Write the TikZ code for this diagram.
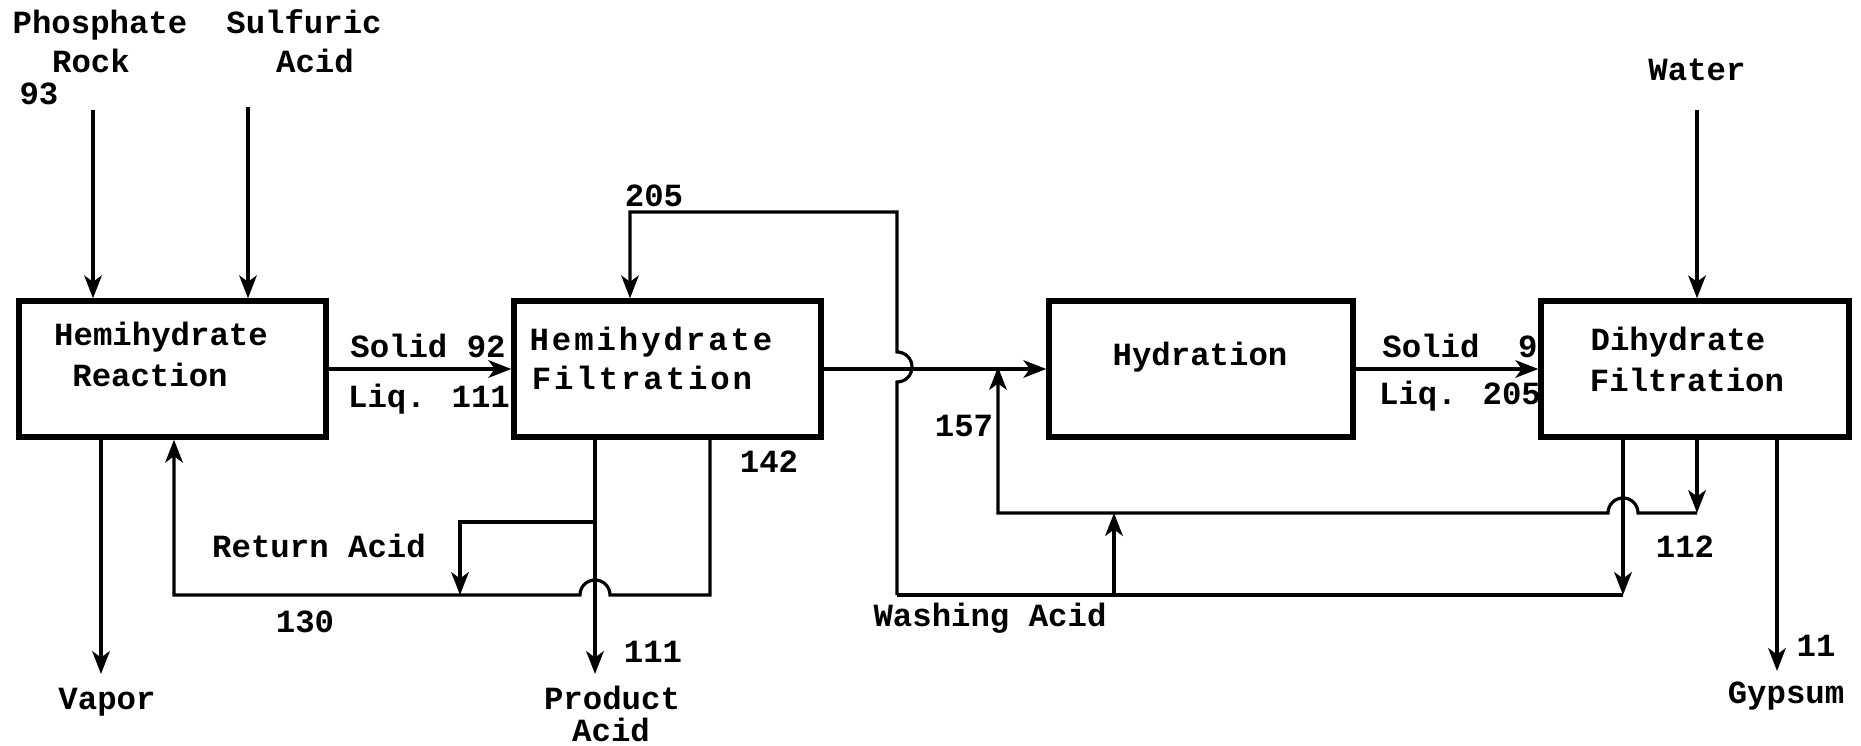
\documentclass[tikz,border=0pt]{standalone}
\usepackage{fontspec}
\setmainfont{Liberation Mono}
\usetikzlibrary{arrows.meta}
\begin{document}
\begin{tikzpicture}[x=0.01cm,y=-0.01cm,
  box/.style={draw, line width=1.5pt, inner sep=0pt, minimum height=1.36cm},
  lbl/.style={font=\fontsize{9.2}{11}\selectfont\bfseries, inner sep=0pt, text height=5.3pt, text depth=0pt},
  wide/.style={lbl, font=\fontsize{9.2}{11}\selectfont\bfseries\addfontfeature{LetterSpace=9}},
  flow/.style={line width=0.9pt},
  arr/.style={flow, -{Stealth[length=6.5pt,width=5pt,inset=1.8pt]}},
]
\useasboundingbox (0,0) rectangle (1861,746);

% boxes
\node[box, minimum width=3.07cm] (react) at (172.5,369) {};
\node[box, minimum width=3.07cm] (hfilt) at (667.5,369) {};
\node[box, minimum width=3.04cm] (hyd) at (1201,369) {};
\node[box, minimum width=3.08cm] (dfilt) at (1695,369) {};

% box texts
\node[lbl] (t1a) at (161,336) {Hemihydrate};
\node[lbl] (t1b) at (150,377) {Reaction};
\node[wide] (t2a) at (651,341) {Hemihydrate};
\node[wide] (t2b) at (642,380) {Filtration};
\node[lbl] (t3) at (1200,356) {Hydration};
\node[lbl] (t4a) at (1678,341) {Dihydrate};
\node[lbl] (t4b) at (1687,382) {Filtration};

% feed labels
\node[lbl] (phos) at (100,24) {Phosphate};
\node[lbl] (rock) at (91,63) {Rock};
\node[lbl] (n93) at (39,95) {93};
\node[lbl] (sulf) at (304,24) {Sulfuric};
\node[lbl] (acid1) at (315,63) {Acid};
\node[lbl] (water) at (1697,71) {Water};

% stream labels
\node[lbl] (s92) at (428,348) {Solid 92};
\node[lbl] (l111) at (429,398) {Liq. 111};
\node[lbl] (s9) at (1460,348) {Solid\ \ 9};
\node[lbl] (l205) at (1460,395) {Liq. 205};
\node[lbl] (n205) at (654,197) {205};
\node[lbl] (n142) at (769,463) {142};
\node[lbl] (n130) at (305,623) {130};
\node[lbl] (retacid) at (319,548) {Return Acid};
\node[lbl] (n111) at (653,653) {111};
\node[lbl] (prod) at (612,700) {Product};
\node[lbl] (acid2) at (611,732) {Acid};
\node[lbl] (n157) at (964,427) {157};
\node[lbl] (n112) at (1685,548) {112};
\node[lbl] (washacid) at (990,617) {Washing Acid};
\node[lbl] (n11) at (1816,647) {11};
\node[lbl] (gyps) at (1786,694) {Gypsum};
\node[lbl] (vapor) at (107,700) {Vapor};

% coordinates
\coordinate (pr) at (93,110);
\coordinate (sa) at (248,107);
\coordinate (wt) at (1697,110);
\coordinate (c205a) at (630,212);
\coordinate (c205b) at (897,212);
\coordinate (wl) at (897,595);
\coordinate (j157) at (998,367);
\coordinate (l112L) at (998,513);
\coordinate (c112) at (1697,513);
\coordinate (cw) at (1623,595);
\coordinate (wa) at (1114,595);
\coordinate (gy) at (1777,671);
\coordinate (vp) at (101,674);
\coordinate (ra) at (174,595);
\coordinate (rb) at (710,595);
\coordinate (pa) at (595,674);
\coordinate (br) at (595,522);
\coordinate (bl) at (460,522);

% feeds
\draw[arr] (pr) -- (pr |- react.north);
\draw[arr] (sa) -- (sa |- react.north);
\draw[arr] (wt) -- (wt |- dfilt.north);

% main line
\draw[arr] (react.east) -- (hfilt.west);
\draw[arr] (hfilt.east) -- (hyd.west);
\draw[arr] (hyd.east) -- (dfilt.west);

% 205 recycle with hop
\draw[arr] (wl) -- (897,382) arc[start angle=-90,end angle=90,radius=0.15cm] -- (c205b) -- (c205a) -- (c205a |- hfilt.north);

% 112 / 157 line with hop
\draw[arr] (c112 |- dfilt.south) -- (c112);
\draw[arr] (c112) -- (1638,513) arc[start angle=0,end angle=180,radius=0.15cm] -- (l112L) -- (j157);

% washing acid
\draw[arr] (cw |- dfilt.south) -- (cw);
\draw[flow] (wl) -- (cw);
\draw[arr] (wa) -- (wa |- l112L);

% outputs
\draw[arr] (gy |- dfilt.south) -- (gy);
\draw[arr] (vp |- react.south) -- (vp);
\draw[arr] (pa |- hfilt.south) -- (pa);

% return acid with hop
\draw[arr] (rb |- hfilt.south) -- (rb) -- (610,595) arc[start angle=0,end angle=180,radius=0.15cm] -- (ra) -- (ra |- react.south);
\draw[arr] (br) -- (bl) -- (bl |- ra);
\end{tikzpicture}
\end{document}
